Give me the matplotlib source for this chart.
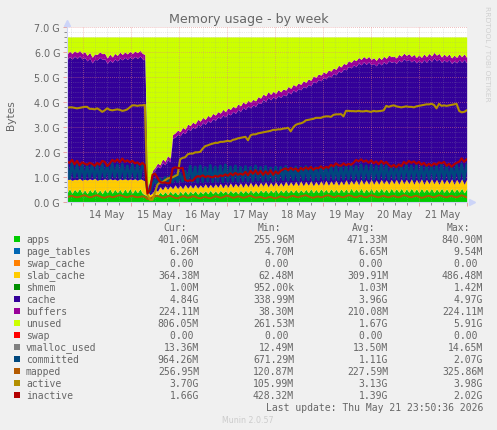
'''
Munin memory usage graph, weekly view
'''

import numpy as np
import pandas as pd
import matplotlib
matplotlib.use('Agg')
import matplotlib.pyplot as plt
import matplotlib.dates as mdates

W, H = 497, 431
BG = '#F0F0F0'
TXT = '#666666'

# everything in G. *_top are stack boundaries
total_top = 6.62
page_tables = 0.0065
shmem = 0.001
vmalloc_used = 0.0135

apps_top = [
  .38,.54,.36,.52,.40,.55,.36,.50,.34,.52,
  .38,.54,.36,.50,.34,.52,.38,.54,.36,.52,
  .38,.52,.36,.54,.38,.55,.36,.52,.38,.54,
  .36,.30,.24,.18,.26,.34,.28,.40,.30,.42,
  .30,.44,.32,.42,.30,.44,.32,.46,.32,.44,
  .34,.46,.32,.44,.34,.46,.34,.48,.34,.46,
  .34,.48,.36,.46,.34,.48,.36,.46,.34,.48,
  .36,.48,.36,.50,.36,.48,.36,.50,.38,.50,
  .36,.50,.38,.52,.36,.50,.38,.52,.38,.50,
  .38,.52,.38,.50,.38,.52,.38,.54,.38,.52,
  .38,.54,.40,.52,.38,.54,.40,.52,.38,.54,
  .40,.54,.38,.56,.40,.54,.40,.56,.38,.54,
  .40,.56,.38,.54,.40,.56,.40,.54,.38,.56,
  .40,.54,.40,.56,.38,.54,.40,.56,.40,.54,
  .38,.56,.40,.54,.40,.56,.38,.54,.40,.56,
  .40,.54,.38,.56,.40,.54,.40,.56,.38,.54]

slab_top = [
  .90,.94,.88,.92,.90,.95,.88,.93,.89,.94,
  .90,.95,.88,.92,.90,.94,.89,.95,.90,.93,
  .88,.94,.90,.95,.89,.93,.90,.94,.88,.95,
  .90,.85,.45,.30,.38,.52,.44,.62,.50,.66,
  .52,.66,.54,.70,.55,.68,.54,.72,.56,.70,
  .56,.72,.56,.70,.58,.74,.58,.72,.58,.74,
  .60,.76,.58,.74,.60,.78,.60,.76,.62,.78,
  .60,.78,.62,.80,.62,.78,.62,.80,.64,.82,
  .62,.80,.64,.82,.64,.80,.64,.84,.66,.82,
  .66,.84,.66,.86,.66,.84,.68,.86,.66,.84,
  .68,.86,.68,.88,.68,.86,.70,.88,.68,.86,
  .70,.90,.70,.88,.72,.90,.70,.92,.72,.90,
  .72,.92,.72,.90,.72,.92,.74,.90,.72,.92,
  .74,.92,.72,.94,.74,.92,.74,.94,.72,.92,
  .74,.94,.72,.92,.74,.94,.74,.92,.72,.94,
  .74,.92,.74,.94,.72,.92,.74,.94,.72,.92]

cache_top = [
  5.72,5.82,5.74,5.85,5.76,5.86,5.74,5.80,5.66,5.78,
  5.58,5.72,5.70,5.80,5.72,5.74,5.56,5.70,5.60,5.74,
  5.66,5.78,5.70,5.80,5.72,5.82,5.74,5.84,5.76,5.86,
  5.74,5.70,0.55,0.85,1.20,1.30,1.45,1.38,1.60,1.50,
  1.72,1.62,2.55,2.62,2.72,2.66,2.82,2.75,2.95,2.88,
  3.02,2.95,3.12,3.05,3.20,3.12,3.28,3.20,3.35,3.28,
  3.42,3.36,3.50,3.42,3.56,3.50,3.64,3.56,3.72,3.64,
  3.80,3.72,3.86,3.78,3.90,3.84,4.00,3.95,4.12,4.04,
  4.20,4.10,4.22,4.14,4.28,4.20,4.32,4.26,4.42,4.34,
  4.50,4.42,4.56,4.50,4.64,4.58,4.72,4.66,4.84,4.78,
  4.92,4.86,5.00,4.94,5.08,5.02,5.16,5.10,5.26,5.20,
  5.34,5.30,5.44,5.38,5.50,5.44,5.58,5.50,5.62,5.52,
  5.62,5.50,5.56,5.46,5.60,5.50,5.62,5.54,5.68,5.60,
  5.64,5.56,5.70,5.62,5.75,5.66,5.72,5.62,5.70,5.58,
  5.68,5.58,5.72,5.60,5.74,5.64,5.78,5.66,5.74,5.60,
  5.70,5.62,5.72,5.56,5.66,5.58,5.72,5.60,5.72,5.58]

buffers = [
  .22,.23,.22,.22,.23,.22,.22,.23,.22,.22,
  .23,.22,.22,.22,.23,.22,.22,.23,.22,.22,
  .22,.23,.22,.22,.22,.23,.22,.22,.23,.22,
  .22,.22,.04,.06,.08,.10,.12,.12,.14,.14,
  .15,.15,.16,.16,.17,.17,.18,.18,.18,.19,
  .19,.19,.20,.20,.20,.20,.20,.21,.21,.21,
  .21,.21,.22,.21,.22,.22,.21,.22,.22,.22,
  .22,.22,.22,.23,.22,.22,.23,.22,.22,.22,
  .23,.22,.22,.22,.23,.22,.22,.23,.22,.22,
  .22,.23,.22,.22,.23,.22,.22,.22,.23,.22,
  .22,.23,.22,.22,.22,.23,.22,.22,.23,.22,
  .22,.22,.23,.22,.22,.23,.22,.22,.22,.23,
  .22,.22,.23,.22,.22,.22,.23,.22,.22,.23,
  .22,.22,.22,.23,.22,.22,.23,.22,.22,.22,
  .23,.22,.22,.23,.22,.22,.22,.23,.22,.22,
  .23,.22,.22,.22,.23,.22,.22,.23,.22,.22]

committed = [
  1.50,.95,1.55,1.00,1.48,.98,1.52,.95,1.45,1.00,
  1.50,.98,1.46,.95,1.52,1.00,1.48,.96,1.54,1.00,
  1.50,.98,1.52,.96,1.46,1.00,1.50,.98,1.48,.95,
  1.50,1.40,.45,.42,.70,.90,.72,.95,.75,1.00,
  .78,1.05,.80,1.10,.82,1.15,.84,1.25,.85,1.45,
  .82,1.42,.80,1.46,.82,1.40,.84,1.48,.82,1.42,
  .84,1.46,.82,1.50,.84,1.42,.85,1.46,.84,1.40,
  .86,1.44,.85,1.40,.86,1.46,.88,1.40,.86,1.44,
  .88,1.38,.86,1.42,.88,1.40,.90,1.44,.88,1.38,
  .90,1.42,.88,1.40,.90,1.44,.90,1.42,.88,1.40,
  .90,1.44,.92,1.40,.90,1.46,.92,1.42,.90,1.46,
  .92,1.44,.94,1.48,.92,1.44,.94,1.50,.92,1.46,
  .94,1.48,.92,1.44,.94,1.50,.94,1.46,.92,1.42,
  .94,1.46,.92,1.48,.94,1.50,.94,1.46,.92,1.48,
  .94,1.44,.92,1.46,.94,1.48,.94,1.46,.92,1.50,
  .94,1.46,.92,1.44,.94,1.48,.94,1.52,.92,1.50]

mapped = [
  .20,.24,.26,.22,.20,.22,.26,.28,.24,.20,
  .22,.26,.28,.24,.20,.18,.22,.24,.20,.22,
  .26,.28,.26,.22,.20,.24,.26,.22,.20,.22,
  .24,.22,.13,.14,.20,.24,.26,.22,.18,.20,
  .24,.26,.22,.18,.16,.20,.24,.22,.18,.20,
  .24,.22,.18,.16,.20,.22,.18,.16,.20,.24,
  .22,.18,.20,.24,.26,.22,.18,.20,.24,.22,
  .18,.20,.24,.26,.22,.18,.20,.22,.18,.16,
  .20,.22,.18,.16,.20,.24,.22,.18,.20,.24,
  .26,.22,.20,.24,.26,.28,.24,.20,.18,.22,
  .24,.20,.22,.26,.28,.24,.20,.22,.26,.22,
  .20,.24,.28,.26,.22,.20,.24,.26,.22,.20,
  .24,.28,.26,.22,.20,.24,.26,.22,.20,.24,
  .26,.22,.20,.24,.28,.26,.22,.20,.24,.26,
  .22,.18,.20,.24,.26,.22,.20,.24,.28,.26,
  .22,.20,.24,.26,.22,.20,.24,.28,.24,.20]

active = [
  3.78,3.80,3.80,3.78,3.76,3.78,3.80,3.82,3.82,3.74,
  3.74,3.72,3.76,3.70,3.62,3.68,3.76,3.70,3.68,3.70,
  3.72,3.70,3.66,3.68,3.72,3.80,3.88,3.88,3.86,3.88,
  3.88,3.90,.30,.10,.10,.40,.70,.80,.80,.88,
  .95,.98,1.00,1.05,1.10,1.72,1.78,1.80,1.92,1.95,
  1.95,2.00,2.00,2.02,2.15,2.25,2.28,2.32,2.35,2.38,
  2.38,2.42,2.42,2.44,2.46,2.44,2.50,2.52,2.56,2.58,
  2.60,2.62,2.48,2.68,2.72,2.72,2.76,2.78,2.80,2.82,
  2.84,2.86,2.90,2.90,2.92,2.92,2.95,2.96,2.98,2.84,
  3.00,3.10,3.14,3.16,3.20,3.28,3.30,3.32,3.34,3.38,
  3.38,3.38,3.42,3.44,3.44,3.42,3.50,3.52,3.52,3.53,
  3.44,3.66,3.66,3.65,3.65,3.64,3.66,3.64,3.64,3.66,
  3.64,3.62,3.66,3.64,3.65,3.66,3.68,3.86,3.82,3.86,
  3.88,3.84,3.82,3.80,3.82,3.84,3.82,3.82,3.80,3.84,
  3.86,3.88,3.90,3.92,3.92,3.94,3.90,3.76,3.94,3.86,
  3.88,3.86,3.88,3.90,3.92,3.94,3.66,3.60,3.62,3.68]

inactive = [
  1.62,1.58,1.70,1.52,1.66,1.48,1.60,1.55,1.50,1.58,
  1.54,1.46,1.58,1.50,1.66,1.62,1.45,1.55,1.70,1.62,
  1.72,1.60,1.75,1.62,1.68,1.60,1.66,1.56,1.60,1.50,
  1.58,1.48,.35,.50,1.10,1.15,.98,.82,.78,.80,
  .76,.78,1.35,1.40,1.38,1.36,1.38,.90,.85,.88,
  .86,.98,1.05,1.02,1.08,1.00,1.05,1.02,1.00,1.06,
  1.02,1.08,1.05,1.12,1.06,1.16,1.08,1.18,1.10,1.15,
  1.10,1.22,1.08,1.26,1.14,1.28,1.12,1.26,1.10,1.24,
  1.12,1.28,1.10,1.24,1.14,1.26,1.32,1.36,1.28,1.38,
  1.30,1.36,1.24,1.38,1.30,1.40,1.32,1.42,1.30,1.38,
  1.36,1.44,1.34,1.42,1.38,1.50,1.44,1.56,1.48,1.46,
  1.56,1.48,1.54,1.50,1.58,1.70,1.64,1.72,1.62,1.68,
  1.58,1.68,1.56,1.64,1.52,1.66,1.54,1.62,1.50,1.42,
  1.50,1.40,1.52,1.44,1.62,1.54,1.66,1.58,1.64,1.54,
  1.62,1.50,1.58,1.46,1.54,1.46,1.56,1.50,1.60,1.56,
  1.62,1.46,1.54,1.42,1.52,1.58,1.62,1.76,1.62,1.72]

legend_names = ['apps', 'page_tables', 'swap_cache', 'slab_cache', 'shmem', 'cache', 'buffers',
                'unused', 'swap', 'vmalloc_used', 'committed', 'mapped', 'active', 'inactive']
legend_colors = ['#00CC00', '#0066B3', '#FF8000', '#FFCC00', '#008F00', '#330099', '#990099',
                 '#CCFF00', '#FF0000', '#808080', '#00487D', '#B35A00', '#B38F00', '#B30000']
cur_vals = ['401.06M', '6.26M', '0.00 ', '364.38M', '1.00M', '4.84G', '224.11M',
            '806.05M', '0.00 ', '13.36M', '964.26M', '256.95M', '3.70G', '1.66G']
min_vals = ['255.96M', '4.70M', '0.00 ', '62.48M', '952.00k', '338.99M', '38.30M',
            '261.53M', '0.00 ', '12.49M', '671.29M', '120.87M', '105.99M', '428.32M']
avg_vals = ['471.33M', '6.65M', '0.00 ', '309.91M', '1.03M', '3.96G', '210.08M',
            '1.67G', '0.00 ', '13.50M', '1.11G', '227.59M', '3.13G', '1.39G']
max_vals = ['840.90M', '9.54M', '0.00 ', '486.48M', '1.42M', '4.97G', '224.11M',
            '5.91G', '0.00 ', '14.65M', '2.07G', '325.86M', '3.98G', '2.02G']

times = pd.date_range('2026-05-13 16:00', '2026-05-21 23:50', periods=len(apps_top))
colors = dict(zip(legend_names, legend_colors))


def px_x(x):
  return x / W


def px_y(y):
  return 1 - y / H


fig = plt.figure(figsize=(W / 100, H / 100), dpi=100, facecolor=BG)
ax = fig.add_axes([px_x(67), px_y(203.3), 400 / W, 174.9 / H], facecolor='white')

apps_top = np.array(apps_top)
slab_top = np.array(slab_top)
cache_top = np.array(cache_top)
buffers_top = cache_top + np.array(buffers)

ax.fill_between(times, 0, apps_top, color=colors['apps'], lw=0, zorder=1)
ax.fill_between(times, apps_top, apps_top + page_tables, color=colors['page_tables'], lw=0, zorder=1)
ax.fill_between(times, apps_top + page_tables, slab_top, color=colors['slab_cache'], lw=0, zorder=1)
ax.fill_between(times, slab_top, slab_top + shmem, color=colors['shmem'], lw=0, zorder=1)
ax.fill_between(times, slab_top + shmem, cache_top, color=colors['cache'], lw=0, zorder=1)
ax.fill_between(times, cache_top, buffers_top, color=colors['buffers'], lw=0, zorder=1)
ax.fill_between(times, buffers_top, total_top, color=colors['unused'], lw=0, zorder=1)

ax.plot(times, [vmalloc_used] * len(times), color=colors['vmalloc_used'], lw=0.7, zorder=2)
ax.plot(times, committed, color=colors['committed'], lw=1.9, zorder=2)
ax.plot(times, mapped, color=colors['mapped'], lw=1.4, zorder=2)
ax.plot(times, active, color=colors['active'], lw=1.5, zorder=2)
ax.plot(times, inactive, color=colors['inactive'], lw=1.5, zorder=2)

ax.set_xlim(pd.Timestamp('2026-05-13 16:00'), pd.Timestamp('2026-05-22 00:00'))
ax.set_ylim(0, 7)

ax.set_yticks(np.arange(0, 8))
ax.set_yticklabels(['%.1f G' % v for v in range(8)])
ax.set_yticks(np.arange(0, 7.01, 0.2), minor=True)
ax.xaxis.set_major_locator(mdates.DayLocator())
ax.xaxis.set_major_formatter(plt.NullFormatter())
ax.xaxis.set_minor_locator(mdates.HourLocator(byhour=[0, 6, 12, 18]))
ax.xaxis.set_minor_formatter(plt.FuncFormatter(
  lambda v, pos: mdates.num2date(v).strftime('%d May') if mdates.num2date(v).hour == 12 else ''))

ax.grid(which='major', color='#E08080', ls=':', lw=0.55, alpha=0.8)
ax.grid(which='minor', color='#A0A0A0', ls=':', lw=0.5, alpha=0.45)
ax.tick_params(which='both', colors=TXT, labelsize=6.9, length=2, width=0.5, pad=2)
ax.tick_params(which='major', color='#E08080', length=3)
ax.tick_params(axis='x', which='minor', pad=3)

for side in ['top', 'right']:
  ax.spines[side].set_visible(False)
for side in ['left', 'bottom']:
  ax.spines[side].set_color('#D0D4F0')
  ax.spines[side].set_linewidth(0.8)

# the little rrdtool arrows at the axis ends
ax.plot(1.0125, 0, '>', transform=ax.transAxes, color='#CCD4F8', ms=4, clip_on=False, zorder=6)
ax.plot(0, 1.025, '^', transform=ax.transAxes, color='#CCD4F8', ms=4, clip_on=False, zorder=6)

fig.text(px_x(248.5), px_y(20), 'Memory usage - by week', color=TXT, fontsize=9.1, ha='center', va='center')
fig.text(px_x(11), px_y(115), 'Bytes', color=TXT, fontsize=7.6, rotation=90, ha='center', va='center')
fig.text(px_x(487.5), px_y(53.5), 'RRDTOOL / TOBI OETIKER', color='#D0D0D0', fontsize=5.4,
         rotation=270, ha='center', va='center')
fig.text(px_x(248), px_y(420.5), 'Munin 2.0.57', color='#CCCCCC', fontsize=5.7, ha='center', va='center')

mono = dict(family='DejaVu Sans Mono', fontsize=7.05, color=TXT, va='center')
fig.text(px_x(163), px_y(228), 'Cur:', **mono)
fig.text(px_x(258), px_y(228), 'Min:', **mono)
fig.text(px_x(352), px_y(228), 'Avg:', **mono)
fig.text(px_x(447), px_y(228), 'Max:', **mono)

for i, name in enumerate(legend_names):
  y = 240 + i * 11.98
  fig.patches.append(plt.Rectangle((px_x(14), px_y(y + 3)), 6 / W, 6 / H, transform=fig.transFigure,
                                   facecolor=legend_colors[i], edgecolor='none'))
  fig.text(px_x(26), px_y(y), name, **mono)
  fig.text(px_x(199), px_y(y), cur_vals[i], ha='right', **mono)
  fig.text(px_x(294), px_y(y), min_vals[i], ha='right', **mono)
  fig.text(px_x(388), px_y(y), avg_vals[i], ha='right', **mono)
  fig.text(px_x(483), px_y(y), max_vals[i], ha='right', **mono)

fig.text(px_x(483), px_y(407.7), 'Last update: Thu May 21 23:50:36 2026', ha='right', **mono)

fig.savefig('out.png', dpi=100, facecolor=BG)
